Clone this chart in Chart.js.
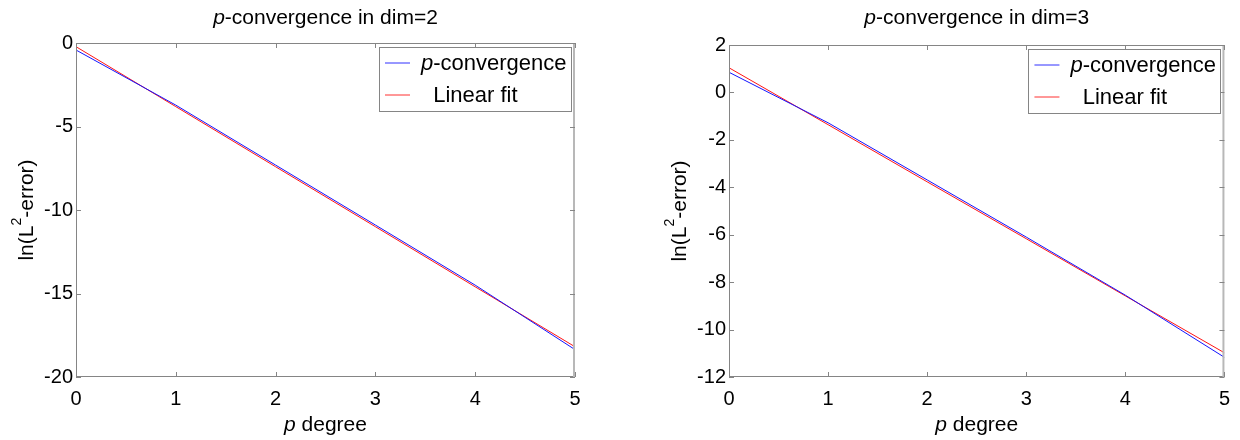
<!DOCTYPE html>
<html>
<head>
<meta charset="utf-8">
<script src="https://cdn.jsdelivr.net/npm/chart.js@4"></script>
<style>
  html, body { margin: 0; padding: 0; background: #fff; }
  #wrap { width: 1240px; height: 440px; display: flex; }
  .box { width: 620px; height: 440px; position: relative; }
</style>
</head>
<body>
<div id="wrap">
  <div class="box"><canvas id="c2" width="620" height="440"></canvas></div>
  <div class="box"><canvas id="c3" width="620" height="440"></canvas></div>
</div>
<script>
// ---------- data ----------
const pDegrees = [0, 1, 2, 3, 4, 5];
const xTickValues = [0, 1, 2, 3, 4, 5];

const dim2Convergence = [-0.42, -3.72, -7.31, -10.90, -14.50, -18.36];
const dim2LinearFit   = [-0.22, -3.81, -7.41, -11.00, -14.60, -18.19];
const dim2YTicks = [0, -5, -10, -15, -20];

const dim3Convergence = [0.85, -1.28, -3.69, -6.10, -8.55, -11.17];
const dim3LinearFit   = [1.04, -1.36, -3.77, -6.17, -8.58, -10.98];
const dim3YTicks = [2, 0, -2, -4, -6, -8, -10, -12];

const seriesLabels = ['p-convergence', '  Linear fit'];
const dim2Title = 'p-convergence in dim=2';
const dim3Title = 'p-convergence in dim=3';
const xAxisLabel = 'p degree';
const yAxisLabel = ['ln(L', '2', '-error)'];

// ---------- styles ----------
const FONT = '"Liberation Sans", Arial, Helvetica, sans-serif';
const GRAY = '#858585';
const LINE_COLORS = ['#1414ff', '#ff1414'];
const LEGEND_COLORS = ['#3030ff', '#ff3030'];

// leading single "p" word rendered in italics
function splitItalicP(text) {
  if (text.startsWith('p-') || text.startsWith('p ')) return [['p', true], [text.slice(1), false]];
  return [[text, false]];
}
function richWidth(ctx, parts, size) {
  let w = 0;
  for (const [t, it] of parts) {
    ctx.font = (it ? 'italic ' : '') + size + 'px ' + FONT;
    w += ctx.measureText(t).width;
  }
  return w;
}
function drawRich(ctx, parts, x, y, size, align) {
  const w = richWidth(ctx, parts, size);
  let cx = align === 'center' ? x - w / 2 : x;
  ctx.textAlign = 'left';
  ctx.textBaseline = 'middle';
  ctx.fillStyle = '#000';
  for (const [t, it] of parts) {
    ctx.font = (it ? 'italic ' : '') + size + 'px ' + FONT;
    ctx.fillText(t, cx, y);
    cx += ctx.measureText(t).width;
  }
}

const decorPlugin = {
  id: 'decor',
  afterDraw(chart, args, o) {
    const ctx = chart.ctx;
    const a = chart.chartArea;
    const xs = chart.scales.x, ys = chart.scales.y;
    ctx.save();
    // frame
    ctx.lineWidth = 1;
    ctx.strokeStyle = GRAY;
    ctx.beginPath();
    ctx.moveTo(a.left + 0.5, a.top + 0.5);
    ctx.lineTo(a.right - 0.5, a.top + 0.5);
    ctx.moveTo(a.left + 0.5, a.top);
    ctx.lineTo(a.left + 0.5, a.bottom);
    ctx.moveTo(a.left, a.bottom - 0.5);
    ctx.lineTo(a.right, a.bottom - 0.5);
    ctx.stroke();
    ctx.strokeStyle = '#b8b8b8';
    ctx.lineWidth = 2;
    ctx.beginPath();
    ctx.moveTo(a.right - 1, a.top);
    ctx.lineTo(a.right - 1, a.bottom);
    ctx.stroke();
    // inward ticks
    ctx.strokeStyle = GRAY;
    ctx.lineWidth = 1;
    ctx.beginPath();
    for (const t of xs.ticks) {
      const px = Math.round(xs.getPixelForValue(t.value)) + 0.5;
      ctx.moveTo(px, a.bottom); ctx.lineTo(px, a.bottom - 5);
      ctx.moveTo(px, a.top); ctx.lineTo(px, a.top + 5);
    }
    for (const t of ys.ticks) {
      const py = Math.round(ys.getPixelForValue(t.value)) + 0.5;
      ctx.moveTo(a.left, py); ctx.lineTo(a.left + 5, py);
      ctx.moveTo(a.right, py); ctx.lineTo(a.right - 5, py);
    }
    ctx.stroke();

    // title
    drawRich(ctx, splitItalicP(o.title), (a.left + a.right) / 2, 18, 21, 'center');
    // x label
    drawRich(ctx, splitItalicP(xAxisLabel), (a.left + a.right) / 2, 425, 21, 'center');
    // y label (rotated, with superscript)
    ctx.save();
    ctx.translate(a.left - 50, (a.top + a.bottom) / 2);
    ctx.rotate(-Math.PI / 2);
    const big = 21, small = 14;
    ctx.font = big + 'px ' + FONT;
    const w1 = ctx.measureText(yAxisLabel[0]).width;
    const w3 = ctx.measureText(yAxisLabel[2]).width;
    ctx.font = small + 'px ' + FONT;
    const w2 = ctx.measureText(yAxisLabel[1]).width;
    let sx = -(w1 + w2 + w3) / 2;
    ctx.fillStyle = '#000';
    ctx.textAlign = 'left';
    ctx.textBaseline = 'alphabetic';
    ctx.font = big + 'px ' + FONT;
    ctx.fillText(yAxisLabel[0], sx, 7);
    sx += w1;
    ctx.font = small + 'px ' + FONT;
    ctx.fillText(yAxisLabel[1], sx, -5);
    sx += w2;
    ctx.font = big + 'px ' + FONT;
    ctx.fillText(yAxisLabel[2], sx, 7);
    ctx.restore();

    // legend
    const bw = 192, bh = 64;
    const bx = a.right - 4 - bw, by = a.top + 4;
    ctx.fillStyle = '#fff';
    ctx.fillRect(bx, by, bw, bh);
    ctx.strokeStyle = GRAY;
    ctx.lineWidth = 1;
    ctx.strokeRect(Math.round(bx) + 0.5, Math.round(by) + 0.5, bw, bh);
    chart.data.datasets.forEach((ds, i) => {
      const ly = Math.round(by + 16 + i * 32);
      ctx.strokeStyle = LEGEND_COLORS[i];
      ctx.lineWidth = 1;
      ctx.beginPath();
      ctx.moveTo(bx + 6, ly);
      ctx.lineTo(bx + 31, ly);
      ctx.stroke();
      drawRich(ctx, splitItalicP(ds.label), bx + 42, ly + 1, 22, 'left');
    });
    ctx.restore();
  }
};

function makeChart(id, title, conv, fit, yTicks, area) {
  const yMin = Math.min(...yTicks), yMax = Math.max(...yTicks);
  return new Chart(document.getElementById(id), {
    type: 'line',
    data: {
      datasets: [
        { label: seriesLabels[0], data: pDegrees.map((p, i) => ({ x: p, y: conv[i] })),
          borderColor: LINE_COLORS[0], borderWidth: 1, pointRadius: 0, tension: 0 },
        { label: seriesLabels[1], data: pDegrees.map((p, i) => ({ x: p, y: fit[i] })),
          borderColor: LINE_COLORS[1], borderWidth: 1, pointRadius: 0, tension: 0 }
      ]
    },
    options: {
      responsive: false,
      animation: false,
      devicePixelRatio: 1,
      layout: { padding: { top: area.top, right: 620 - area.right, bottom: 0, left: 0 } },
      plugins: {
        legend: { display: false },
        title: { display: false },
        tooltip: { enabled: false },
        decor: { title: title }
      },
      scales: {
        x: {
          type: 'linear', min: 0, max: 5,
          afterBuildTicks: s => { s.ticks = xTickValues.map(v => ({ value: v })); },
          afterFit: s => { s.height = 440 - area.bottom; },
          grid: { display: false, drawTicks: false },
          border: { display: false },
          ticks: { color: '#000', font: { family: FONT, size: 20 }, padding: 10, maxRotation: 0,
                   callback: v => String(v) }
        },
        y: {
          type: 'linear', min: yMin, max: yMax,
          afterBuildTicks: s => { s.ticks = yTicks.slice().sort((a, b) => a - b).map(v => ({ value: v })); },
          afterFit: s => { s.width = area.left; },
          grid: { display: false, drawTicks: false },
          border: { display: false },
          ticks: { color: '#000', font: { family: FONT, size: 20 }, padding: 3,
                   callback: v => String(v) }
        }
      }
    },
    plugins: [decorPlugin]
  });
}

makeChart('c2', dim2Title, dim2Convergence, dim2LinearFit, dim2YTicks,
          { left: 76, right: 575, top: 43, bottom: 377 });
makeChart('c3', dim3Title, dim3Convergence, dim3LinearFit, dim3YTicks,
          { left: 109, right: 608, top: 45, bottom: 377 });
</script>
</body>
</html>
